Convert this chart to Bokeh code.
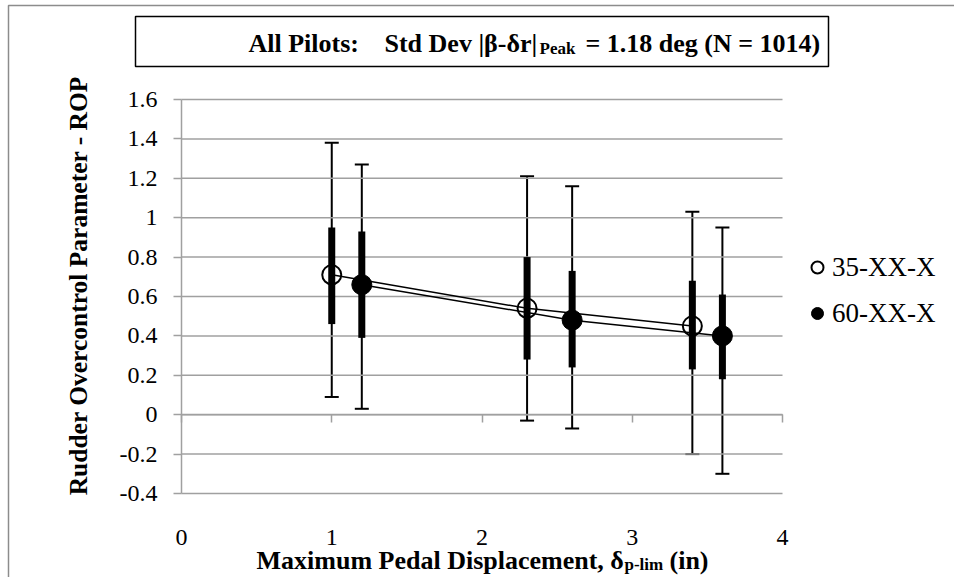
import math
from bokeh.plotting import figure
from bokeh.models import (FixedTicker, LinearAxis, Label, BoxAnnotation, Legend,
                          LegendItem, Whisker, ColumnDataSource, TeeHead)
from bokeh.embed import file_html
from bokeh.resources import INLINE

# ---------------- data ----------------
series_names = ["35-XX-X", "60-XX-X"]

x_35 = [1.0, 2.3, 3.4]
mean_35 = [0.71, 0.54, 0.45]
sd1_lo_35 = [0.46, 0.28, 0.23]
sd1_hi_35 = [0.95, 0.80, 0.68]
sd2_lo_35 = [0.09, -0.03, -0.20]
sd2_hi_35 = [1.38, 1.21, 1.03]

x_60 = [1.2, 2.6, 3.6]
mean_60 = [0.66, 0.48, 0.40]
sd1_lo_60 = [0.39, 0.24, 0.18]
sd1_hi_60 = [0.93, 0.73, 0.61]
sd2_lo_60 = [0.03, -0.07, -0.30]
sd2_hi_60 = [1.27, 1.16, 0.95]

x_ticks = [0, 1, 2, 3, 4]
y_ticks = [-0.4, -0.2, 0, 0.2, 0.4, 0.6, 0.8, 1, 1.2, 1.4, 1.6]
y_tick_labels = ["-0.4", "-0.2", "0", "0.2", "0.4", "0.6", "0.8", "1", "1.2", "1.4", "1.6"]

title_a = "All Pilots:"
title_b = "Std Dev |\u03b2-\u03b4r|"
title_sub = "Peak"
title_c = "= 1.18 deg (N = 1014)"
xlabel_a = "Maximum Pedal Displacement, \u03b4"
xlabel_sub = "p-lim"
xlabel_c = "(in)"
ylabel = "Rudder Overcontrol Parameter - ROP"

# ---------------- layout helpers ----------------
W, H = 954, 577
FL, FR, FT, FB = 181, 782, 99, 493          # plot-area pixel box
X0, X1, Y0, Y1 = 0, 4, -0.4, 1.6            # plot-area value box
FONT = "Liberation Serif"
GRID = "#a0a0a0"
TSHIFT = 9   # label baseline correction (px)


def dx(px):
    return X0 + (px - FL) * (X1 - X0) / (FR - FL)


def dy(py):
    return Y0 + (FB - py) * (Y1 - Y0) / (FB - FT)


p = figure(width=W, height=H, x_range=(dx(0), dx(W)), y_range=(dy(H), dy(0)),
           min_border=0, min_border_left=0, min_border_right=0,
           min_border_top=0, min_border_bottom=0,
           x_axis_location=None, y_axis_location=None,
           output_backend="svg", toolbar_location=None,
           background_fill_color="white", border_fill_color="white")
p.outline_line_color = None
p.grid.visible = False

# horizontal grid lines across the plot area
p.segment([X0] * len(y_ticks), y_ticks, [X1] * len(y_ticks), y_ticks,
          line_color=GRID, line_width=1.5)

# y axis at x = 0
ya = LinearAxis(fixed_location=X0, bounds=(Y0, Y1),
                ticker=FixedTicker(ticks=y_ticks),
                major_label_overrides={t: s for t, s in zip(y_ticks, y_tick_labels)},
                major_tick_out=8, major_tick_in=0, minor_tick_line_color=None,
                axis_line_color=GRID, major_tick_line_color=GRID,
                axis_line_width=1.5, major_tick_line_width=1.5,
                major_label_text_font=FONT, major_label_text_font_size="24px",
                major_label_text_color="black", major_label_standoff=16)
p.add_layout(ya, "left")

# x tick labels along the bottom of the plot area
xa = LinearAxis(fixed_location=Y0, bounds=(X0, X1),
                ticker=FixedTicker(ticks=x_ticks),
                axis_line_color=None, major_tick_line_color=None,
                minor_tick_line_color=None,
                major_label_text_font=FONT, major_label_text_font_size="24px",
                major_label_text_color="black", major_label_standoff=30)
p.add_layout(xa, "below")

# x axis line crossing at y = 0, ticks pointing down
ax0 = LinearAxis(fixed_location=0, bounds=(X0, X1),
                 ticker=FixedTicker(ticks=x_ticks),
                 major_tick_out=8, major_tick_in=0,
                 axis_line_color=GRID, major_tick_line_color=GRID,
                 axis_line_width=1.5, major_tick_line_width=1.5,
                 minor_tick_line_color=None,
                 major_label_text_alpha=0, major_label_text_font_size="10px")
p.add_layout(ax0, "below")

# ---------------- data marks ----------------
p.line(x_35, mean_35, line_color="black", line_width=1.5)
p.line(x_60, mean_60, line_color="black", line_width=1.5)

for xs, lo, hi in [(x_35, sd2_lo_35, sd2_hi_35), (x_60, sd2_lo_60, sd2_hi_60)]:
    src = ColumnDataSource(dict(x=xs, lo=lo, hi=hi))
    w = Whisker(source=src, base="x", lower="lo", upper="hi", dimension="height",
                line_color="black", line_width=2,
                upper_head=TeeHead(size=14, line_color="black", line_width=2),
                lower_head=TeeHead(size=14, line_color="black", line_width=2))
    p.add_layout(w)

p.segment(x_35, sd1_lo_35, x_35, sd1_hi_35, line_color="black", line_width=7, line_cap="butt")
p.segment(x_60, sd1_lo_60, x_60, sd1_hi_60, line_color="black", line_width=7, line_cap="butt")

r35 = p.scatter(x_35, mean_35, marker="circle", size=19, line_color="black",
                line_width=2, fill_alpha=0)
r60 = p.scatter(x_60, mean_60, marker="circle", size=20, line_color="black",
                fill_color="black")

legend = Legend(items=[LegendItem(label=series_names[0], renderers=[r35]),
                       LegendItem(label=series_names[1], renderers=[r60])],
                location=(802, 248), orientation="vertical",
                glyph_width=30, glyph_height=32, label_height=32,
                label_standoff=0, spacing=14, padding=0, margin=0,
                border_line_color=None, background_fill_alpha=0,
                label_text_font=FONT, label_text_font_size="27px",
                label_text_color="black", label_text_baseline="middle")
p.add_layout(legend, "center")

# ---------------- frames ----------------
p.add_layout(BoxAnnotation(left=dx(8), right=dx(W + 50), top=dy(5), bottom=dy(H + 50),
                           fill_alpha=0, line_color="#8c8c8c", line_alpha=1, line_width=1.5))
p.add_layout(BoxAnnotation(left=dx(135), right=dx(828), top=dy(16), bottom=dy(66),
                           fill_alpha=0, line_color="black", line_alpha=1, line_width=1.5))

# ---------------- title ----------------
t_style = dict(text_font=FONT, text_font_style="bold", text_color="black",
               text_baseline="alphabetic", text_align="left")
p.add_layout(Label(x=dx(248), y=dy(52 - TSHIFT), text=title_a, text_font_size="26px", **t_style))
p.add_layout(Label(x=dx(384), y=dy(52 - TSHIFT), text=title_b, text_font_size="26px", **t_style))
p.add_layout(Label(x=dx(539), y=dy(57 - TSHIFT), text=title_sub, text_font_size="17px", **t_style))
p.add_layout(Label(x=dx(585), y=dy(52 - TSHIFT), text=title_c, text_font_size="26px", **t_style))

# ---------------- x axis title ----------------
x_style = dict(text_font=FONT, text_font_style="bold", text_color="black",
               text_baseline="alphabetic", text_align="left")
p.add_layout(Label(x=dx(256), y=dy(569 - TSHIFT), text=xlabel_a, text_font_size="26px", **x_style))
p.add_layout(Label(x=dx(624), y=dy(573 - TSHIFT), text=xlabel_sub, text_font_size="17px", **x_style))
p.add_layout(Label(x=dx(669), y=dy(569 - TSHIFT), text=xlabel_c, text_font_size="26px", **x_style))

# ---------------- y axis title ----------------
p.add_layout(Label(x=dx(78), y=dy(285), text=ylabel, angle=math.pi / 2,
                   text_font=FONT, text_font_style="bold", text_font_size="25.5px",
                   text_color="black", text_align="center", text_baseline="middle"))

open("out.html", "w").write(file_html(p, INLINE))
